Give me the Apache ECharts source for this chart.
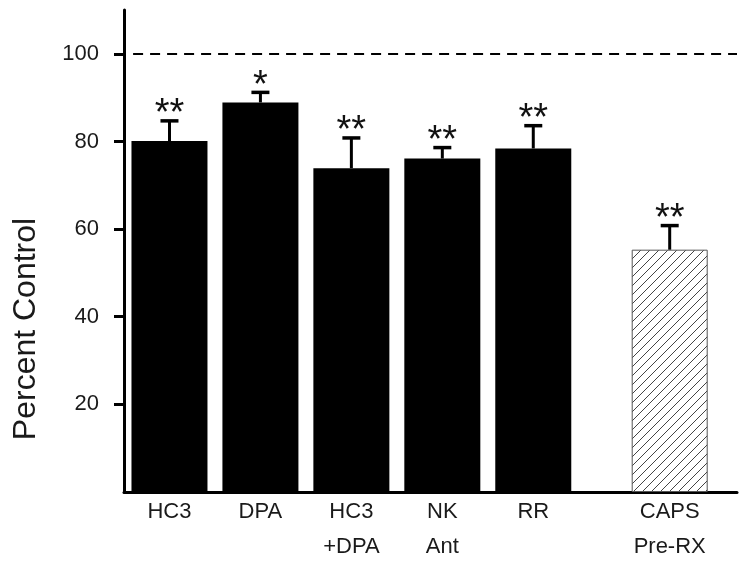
<!DOCTYPE html>
<html>
<head>
<meta charset="utf-8">
<script src="https://cdn.jsdelivr.net/npm/echarts@6/dist/echarts.min.js"></script>
<style>
html,body{margin:0;padding:0;background:#fff;}
#chart{width:749px;height:564px;}
</style>
</head>
<body>
<div id="chart"></div>
<script>
// ---- data ----
const categories = ['HC3', 'DPA', 'HC3\n+DPA', 'NK\nAnt', 'RR', 'CAPS\nPre-RX'];
const means = [80.1, 88.9, 73.9, 76.1, 78.4, 55.3];
const errors = [4.6, 2.3, 6.9, 2.5, 5.2, 5.5];
const stars = ['**', '*', '**', '**', '**', '**'];
const yTicks = [20, 40, 60, 80, 100];
const controlLevel = 100;

// ---- layout helpers ----
const groupGapAfter = 4;   // extra space before the pretreatment bar
const groupGap = 0.5;
const positions = categories.map((c, i) => i + (i > groupGapAfter ? groupGap : 0));
const hatchedIndex = 5;
const xMin = -0.5, xMax = 6.24;

function makeHatch() {
  const s = 9;
  const cv = document.createElement('canvas');
  cv.width = s; cv.height = s;
  const ctx = cv.getContext('2d');
  ctx.fillStyle = '#fff';
  ctx.fillRect(0, 0, s, s);
  ctx.strokeStyle = '#444';
  ctx.lineWidth = 1;
  ctx.beginPath();
  ctx.moveTo(0, s); ctx.lineTo(s, 0);
  ctx.moveTo(-1, 1); ctx.lineTo(1, -1);
  ctx.moveTo(s - 1, s + 1); ctx.lineTo(s + 1, s - 1);
  ctx.stroke();
  return cv;
}
const hatch = makeHatch();

const barData = means.map((v, i) => {
  const item = { value: [positions[i], v] };
  if (i === hatchedIndex) {
    item.itemStyle = { color: { image: hatch, repeat: 'repeat' }, borderColor: '#555', borderWidth: 1 };
  }
  return item;
});
const errData = means.map((v, i) => [positions[i], v, v + errors[i], i]);

const chart = echarts.init(document.getElementById('chart'));
chart.setOption({
  animation: false,
  backgroundColor: '#fff',
  grid: { left: 124, right: 12, top: 10, bottom: 71 },
  xAxis: {
    type: 'value',
    min: xMin,
    max: xMax,
    axisLine: { onZero: false, lineStyle: { color: '#000', width: 3 } },
    axisTick: { show: false },
    splitLine: { show: false },
    axisLabel: {
      customValues: positions,
      formatter: v => {
        const k = positions.findIndex(p => Math.abs(p - v) < 1e-6);
        return k >= 0 ? categories[k] : '';
      },
      fontFamily: 'Liberation Sans, Arial, sans-serif',
      fontSize: 22,
      lineHeight: 35,
      color: '#1a1a1a',
      margin: 2
    }
  },
  yAxis: {
    type: 'value',
    min: 0,
    max: 110,
    name: 'Percent Control',
    nameLocation: 'middle',
    nameGap: 82,
    nameTextStyle: {
      fontFamily: 'Liberation Sans, Arial, sans-serif',
      fontSize: 32,
      color: '#1a1a1a',
      padding: [0, 156, 0, 0]
    },
    axisLine: { show: true, onZero: false, lineStyle: { color: '#000', width: 3 } },
    axisTick: { show: true, customValues: yTicks, length: 10, inside: false, lineStyle: { color: '#000', width: 3 } },
    splitLine: { show: false },
    axisLabel: {
      customValues: yTicks,
      fontFamily: 'Liberation Sans, Arial, sans-serif',
      fontSize: 22,
      color: '#1a1a1a',
      margin: 25
    }
  },
  series: [
    {
      type: 'bar',
      barWidth: 76,
      itemStyle: { color: '#000' },
      data: barData,
      markLine: {
        silent: true,
        symbol: ['none', 'none'],
        label: { show: false },
        lineStyle: { type: [10, 7], width: 2, color: '#000' },
        data: [[{ xAxis: xMin + 0.1, yAxis: controlLevel }, { xAxis: xMax, yAxis: controlLevel }]]
      },
      z: 2
    },
    {
      type: 'custom',
      data: errData,
      z: 3,
      renderItem: function (params, api) {
        const x = api.value(0);
        const base = api.coord([x, api.value(1)]);
        const top = api.coord([x, api.value(2)]);
        const idx = api.value(3);
        const capHalf = 9;
        return {
          type: 'group',
          children: [
            { type: 'line', shape: { x1: base[0], y1: base[1], x2: top[0], y2: top[1] }, style: { stroke: '#000', lineWidth: 3 } },
            { type: 'line', shape: { x1: top[0] - capHalf, y1: top[1], x2: top[0] + capHalf, y2: top[1] }, style: { stroke: '#000', lineWidth: 3.5 } },
            { type: 'text', style: { text: stars[idx], x: top[0], y: top[1] - 6, align: 'center', verticalAlign: 'middle', font: '38px "Liberation Sans", Arial, sans-serif', fill: '#111' } }
          ]
        };
      }
    }
  ]
});
</script>
</body>
</html>
